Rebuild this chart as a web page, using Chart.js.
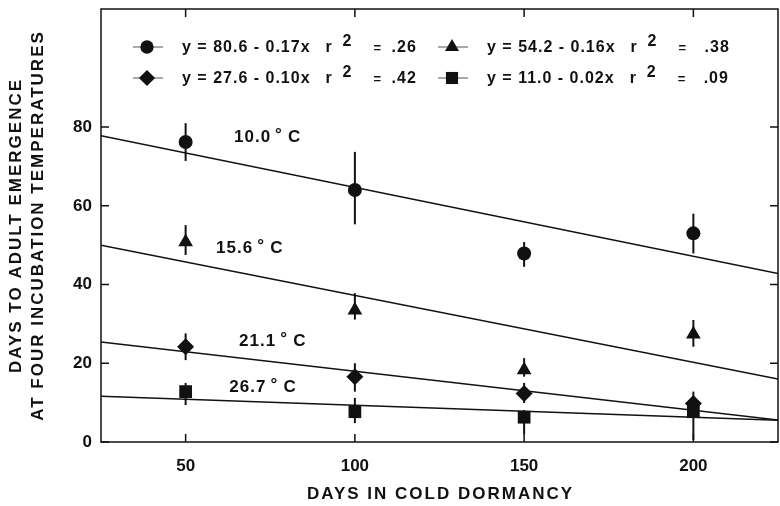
<!DOCTYPE html>
<html>
<head>
<meta charset="utf-8">
<script src="https://cdn.jsdelivr.net/npm/chart.js"></script>
<style>
html, body { margin: 0; padding: 0; background: #fff; }
#wrap { width: 780px; height: 506px; }
</style>
</head>
<body>
<div id="wrap"><canvas id="chart"></canvas></div>
<script>
// days in cold dormancy
const dormancyDays = [50, 100, 150, 200];

// mean days to adult emergence, with error bar ends, per incubation temperature
const t10Mean = [76.2, 64.0, 47.9, 53.0];
const t10Low  = [71.4, 55.3, 44.5, 47.9];
const t10High = [81.0, 73.7, 50.8, 58.0];

const t15Mean = [50.8, 33.5, 18.3, 27.4];
const t15Low  = [47.5, 31.1, 16.6, 24.2];
const t15High = [55.1, 37.8, 21.3, 31.0];

const t21Mean = [24.2, 16.6, 12.3, 9.8];
const t21Low  = [20.8, 12.8, 9.9, 6.5];
const t21High = [27.6, 20.0, 15.0, 12.8];

const t26Mean = [12.8, 7.7, 6.3, 7.7];
const t26Low  = [9.4, 4.8, 2.0, 0.5];
const t26High = [15.0, 11.2, 8.1, 10.5];

// regression line ends
const fitX = [25, 225];
const t10Fit = [77.8, 42.8];
const t15Fit = [50.0, 16.0];
const t21Fit = [25.4, 5.6];
const t26Fit = [11.6, 5.5];

// legend text
const fitEquations = ['y = 80.6 - 0.17x', 'y = 54.2 - 0.16x', 'y = 27.6 - 0.10x', 'y = 11.0 - 0.02x'];
const fitR2 = ['.26', '.38', '.42', '.09'];

// temperature labels and where they sit (data units)
const tempLabels = ['10.0', '15.6', '21.1', '26.7'];
const tempLabelX = [64.3, 59.0, 65.8, 62.9];
const tempLabelY = [77.4, 49.2, 25.6, 14.0];

// axis ticks
const xTicks = [50, 100, 150, 200];
const yTicks = [0, 20, 40, 60, 80];

const INK = '#111';
const FONT = '"Liberation Sans", Arial, sans-serif';
const markerStyles = ['circle', 'triangle', 'rectRot', 'rect'];
const markerRadius = [7, 8.5, 8.5, 9];

function points(xs, ys) {
    return xs.map((x, i) => ({ x: x, y: ys[i] }));
}

function fitLine(ys) {
    return {
        type: 'scatter',
        data: points(fitX, ys),
        showLine: true,
        borderColor: INK,
        borderWidth: 1.5,
        pointRadius: 0,
        order: 2
    };
}

function meanSeries(ys, low, high, k) {
    return {
        type: 'scatter',
        data: points(dormancyDays, ys),
        errLow: low,
        errHigh: high,
        pointStyle: markerStyles[k],
        pointRadius: markerRadius[k],
        backgroundColor: INK,
        borderColor: INK,
        borderWidth: 0,
        order: 1
    };
}

// draw a marker by hand (legend)
function drawMarker(ctx, style, x, y, r) {
    ctx.beginPath();
    if (style === 'circle') {
        ctx.arc(x, y, r, 0, Math.PI * 2);
    } else if (style === 'triangle') {
        ctx.moveTo(x, y - r);
        ctx.lineTo(x + r * 0.866, y + r * 0.5);
        ctx.lineTo(x - r * 0.866, y + r * 0.5);
        ctx.closePath();
    } else if (style === 'rectRot') {
        ctx.moveTo(x, y - r);
        ctx.lineTo(x + r, y);
        ctx.lineTo(x, y + r);
        ctx.lineTo(x - r, y);
        ctx.closePath();
    } else {
        const s = r * Math.SQRT1_2;
        ctx.rect(x - s, y - s, 2 * s, 2 * s);
    }
    ctx.fill();
}

// error bars
const errorBars = {
    id: 'errorBars',
    beforeDatasetsDraw(chart) {
        const ctx = chart.ctx;
        const xs = chart.scales.x, ys = chart.scales.y;
        ctx.save();
        ctx.strokeStyle = INK;
        ctx.lineWidth = 2;
        chart.data.datasets.forEach(ds => {
            if (!ds.errLow) return;
            ds.data.forEach((p, i) => {
                const px = xs.getPixelForValue(p.x);
                ctx.beginPath();
                ctx.moveTo(px, ys.getPixelForValue(ds.errLow[i]));
                ctx.lineTo(px, ys.getPixelForValue(ds.errHigh[i]));
                ctx.stroke();
            });
        });
        ctx.restore();
    }
};

// frame, inward ticks, axis titles, legend, temperature labels
const decorations = {
    id: 'decorations',
    afterDraw(chart) {
        const ctx = chart.ctx;
        const a = chart.chartArea;
        const xs = chart.scales.x, ys = chart.scales.y;
        ctx.save();
        ctx.strokeStyle = INK;
        ctx.fillStyle = INK;
        ctx.lineWidth = 1.5;
        ctx.strokeRect(a.left, a.top, a.right - a.left, a.bottom - a.top);

        // inward tick marks on all four sides
        const tl = 8;
        xTicks.forEach(v => {
            const px = xs.getPixelForValue(v);
            ctx.beginPath();
            ctx.moveTo(px, a.bottom); ctx.lineTo(px, a.bottom - tl);
            ctx.moveTo(px, a.top); ctx.lineTo(px, a.top + tl);
            ctx.stroke();
        });
        yTicks.forEach(v => {
            const py = ys.getPixelForValue(v);
            ctx.beginPath();
            ctx.moveTo(a.left, py); ctx.lineTo(a.left + tl, py);
            ctx.moveTo(a.right, py); ctx.lineTo(a.right - tl, py);
            ctx.stroke();
        });

        // axis titles
        ctx.letterSpacing = '2px';
        ctx.font = 'bold 17px ' + FONT;
        ctx.textAlign = 'center';
        ctx.textBaseline = 'middle';
        ctx.fillText('DAYS IN COLD DORMANCY', (a.left + a.right) / 2 + 1, 494);
        ctx.save();
        ctx.translate(16, (a.top + a.bottom) / 2);
        ctx.rotate(-Math.PI / 2);
        ctx.fillText('DAYS TO ADULT EMERGENCE', 0, 0);
        ctx.fillText('AT FOUR INCUBATION TEMPERATURES', 0, 22);
        ctx.restore();

        // legend, two rows by two columns
        const cols = [a.left + 46, a.left + 351];
        const rows = [a.top + 38, a.top + 69];
        ctx.textAlign = 'left';
        fitEquations.forEach((eq, k) => {
            const mx = cols[k % 2], my = rows[Math.floor(k / 2)];
            ctx.lineWidth = 1;
            ctx.strokeStyle = '#555';
            ctx.beginPath();
            ctx.moveTo(mx - 14, my); ctx.lineTo(mx + 16, my);
            ctx.stroke();
            drawMarker(ctx, markerStyles[k], mx, my, markerRadius[k] * 0.95);
            ctx.letterSpacing = '1px';
            ctx.font = 'bold 16px ' + FONT;
            const tx = mx + 35;
            ctx.fillText(eq, tx, my + 1);
            const rx = tx + ctx.measureText(eq).width + 15;
            ctx.letterSpacing = '0px';
            ctx.fillText('r', rx, my + 1);
            ctx.fillText('2', rx + 17, my - 5);
            ctx.font = 'bold 13px ' + FONT;
            ctx.fillText('=', rx + 48, my + 1);
            ctx.font = 'bold 16px ' + FONT;
            ctx.letterSpacing = '1px';
            ctx.fillText(fitR2[k], rx + 66 + (k % 2) * 8, my + 1);
            ctx.letterSpacing = '0px';
        });

        // temperature labels
        tempLabels.forEach((t, k) => {
            const px = xs.getPixelForValue(tempLabelX[k]);
            const py = ys.getPixelForValue(tempLabelY[k]);
            ctx.font = 'bold 17px ' + FONT;
            ctx.letterSpacing = '1px';
            ctx.fillText(t, px, py);
            const w = ctx.measureText(t).width;
            ctx.letterSpacing = '0px';
            ctx.fillText('°', px + w + 4, py - 2);
            ctx.fillText('C', px + w + 17, py);
        });
        ctx.restore();
    }
};

new Chart(document.getElementById('chart'), {
    type: 'scatter',
    data: {
        datasets: [
            fitLine(t10Fit),
            fitLine(t15Fit),
            fitLine(t21Fit),
            fitLine(t26Fit),
            meanSeries(t10Mean, t10Low, t10High, 0),
            meanSeries(t15Mean, t15Low, t15High, 1),
            meanSeries(t21Mean, t21Low, t21High, 2),
            meanSeries(t26Mean, t26Low, t26High, 3)
        ]
    },
    options: {
        responsive: true,
        maintainAspectRatio: false,
        animation: false,
        layout: { autoPadding: false, padding: { top: 9, right: 2, left: 0, bottom: 0 } },
        plugins: {
            legend: { display: false },
            tooltip: { enabled: false }
        },
        scales: {
            x: {
                type: 'linear',
                min: 25,
                max: 225,
                grid: { display: false, drawTicks: false },
                border: { display: false },
                afterBuildTicks: axis => { axis.ticks = xTicks.map(v => ({ value: v })); },
                afterFit: axis => {
                    axis.height = 64;
                    axis.paddingLeft = 0;
                    axis.paddingRight = 0;
                },
                ticks: {
                    autoSkip: false,
                    padding: 14,
                    color: INK,
                    font: { family: FONT, size: 17, weight: 'bold' }
                }
            },
            y: {
                type: 'linear',
                min: 0,
                max: 110,
                grid: { display: false, drawTicks: false },
                border: { display: false },
                afterBuildTicks: axis => { axis.ticks = yTicks.map(v => ({ value: v })); },
                afterFit: axis => {
                    axis.width = 101;
                    axis.paddingTop = 0;
                    axis.paddingBottom = 0;
                },
                ticks: {
                    autoSkip: false,
                    padding: 9,
                    color: INK,
                    font: { family: FONT, size: 17, weight: 'bold' }
                }
            }
        }
    },
    plugins: [errorBars, decorations]
});
</script>
</body>
</html>
